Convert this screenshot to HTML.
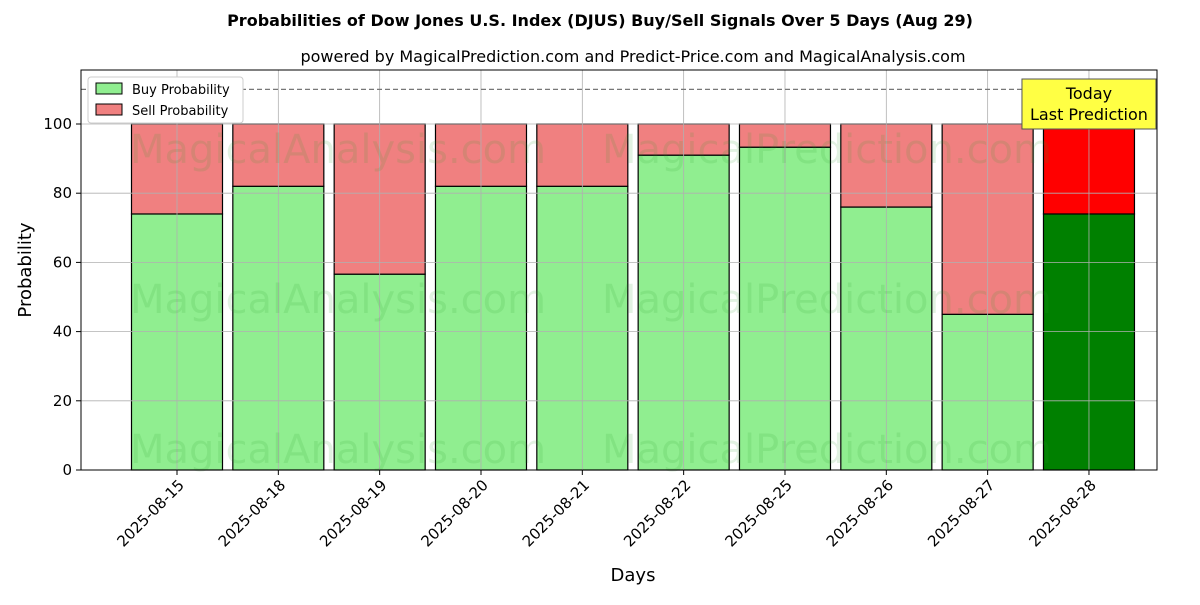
<!DOCTYPE html>
<html><head><meta charset="utf-8"><style>
body{margin:0;background:#fff;font-family:"Liberation Sans","DejaVu Sans",sans-serif}
svg text{font-family:"DejaVu Sans","Liberation Sans",sans-serif}
</style></head><body>
<svg id="chart" width="1200" height="600" xmlns="http://www.w3.org/2000/svg">
<rect width="1200" height="600" fill="#fff"/>
<text x="600" y="26" text-anchor="middle" font-size="16" font-weight="bold">Probabilities of Dow Jones U.S. Index (DJUS) Buy/Sell Signals Over 5 Days (Aug 29)</text>
<text x="633" y="62" text-anchor="middle" font-size="16">powered by MagicalPrediction.com and Predict-Price.com and MagicalAnalysis.com</text>
<g id="bars"></g>
<g id="grid"></g>
<g id="wm" fill="#2ca02c" opacity="0.13" font-size="40">
<text x="130" y="163">MagicalAnalysis.com</text><text x="602" y="163">MagicalPrediction.com</text>
<text x="130" y="313">MagicalAnalysis.com</text><text x="602" y="313">MagicalPrediction.com</text>
<text x="130" y="463">MagicalAnalysis.com</text><text x="602" y="463">MagicalPrediction.com</text>
</g>
<g id="axes"></g>
<text x="633" y="581" text-anchor="middle" font-size="18">Days</text>
<text transform="translate(31,270) rotate(-90)" text-anchor="middle" font-size="18">Probability</text>
<g>
<rect x="88" y="77" width="155" height="46" fill="#fff" stroke="#ccc" rx="3"/>
<rect x="96" y="83" width="26" height="11" fill="#90ee90" stroke="#000"/>
<text x="132" y="94" font-size="13">Buy Probability</text>
<rect x="96" y="104" width="26" height="11" fill="#f08080" stroke="#000"/>
<text x="132" y="115" font-size="13">Sell Probability</text>
</g>
</svg>
<script>
const days=["2025-08-15","2025-08-18","2025-08-19","2025-08-20","2025-08-21","2025-08-22","2025-08-25","2025-08-26","2025-08-27","2025-08-28"];
const buyValues=[74,82,56.6,82,82,91,93.3,76,45,74];
const sellValues=[26,18,43.4,18,18,9,6.7,24,55,26];
const yTicks=[0,20,40,60,80,100];
const refLine=110;
const NS="http://www.w3.org/2000/svg";
const L=81,R=1157,T=70,B=470;
const x=i=>177+i*101.33;
const y=v=>470-v*3.46;
function mk(tag,attrs,parent,txt){const e=document.createElementNS(NS,tag);for(const k in attrs)e.setAttribute(k,attrs[k]);if(txt!==undefined)e.textContent=txt;document.getElementById(parent).appendChild(e);return e;}
yTicks.forEach(t=>{const e=mk('line',{x1:L,x2:R,y1:y(t),y2:y(t),stroke:'#b0b0b0','stroke-width':0.8},'grid');

});
days.forEach((d,i)=>{const e=mk('line',{x1:x(i),x2:x(i),y1:T,y2:B,stroke:'#b0b0b0','stroke-width':0.8},'grid');

});
const w=91;
days.forEach((d,i)=>{const last=i===days.length-1;
const b=mk('rect',{x:x(i)-w/2,y:y(buyValues[i]),width:w,height:y(0)-y(buyValues[i]),fill:last?'#008000':'#90ee90',stroke:'#000','stroke-width':1.2},'bars');


const s=mk('rect',{x:x(i)-w/2,y:y(buyValues[i]+sellValues[i]),width:w,height:y(buyValues[i])-y(buyValues[i]+sellValues[i]),fill:last?'#ff0000':'#f08080',stroke:'#000','stroke-width':1.2},'bars');

});
const rl=mk('line',{x1:L,x2:R,y1:y(refLine),y2:y(refLine),stroke:'#777','stroke-width':1.2,'stroke-dasharray':'5,3'},'axes');


const fr=mk('rect',{x:L,y:T,width:R-L,height:B-T,fill:'none',stroke:'#000','stroke-width':1},'axes');


yTicks.forEach(t=>{mk('line',{x1:L-5,x2:L,y1:y(t),y2:y(t),stroke:'#000'},'axes');
const e=mk('text',{x:L-9,y:y(t)+5,'text-anchor':'end','font-size':15},'axes',t);

});
days.forEach((d,i)=>{mk('line',{x1:x(i),x2:x(i),y1:B,y2:B+5,stroke:'#000'},'axes');
const e=mk('text',{transform:`translate(${x(i)+8},${B+16}) rotate(-45)`,'text-anchor':'end','font-size':15},'axes',d);

});
const lx=x(days.length-1);
const box=mk('rect',{x:lx-67,y:79,width:134,height:50,fill:'#ffff44',stroke:'#555','stroke-width':1},'axes');


const a1=mk('text',{x:lx,y:99,'text-anchor':'middle','font-size':16},'axes','Today');


const a2=mk('text',{x:lx,y:120,'text-anchor':'middle','font-size':16},'axes','Last Prediction');


</script>
</body></html>
